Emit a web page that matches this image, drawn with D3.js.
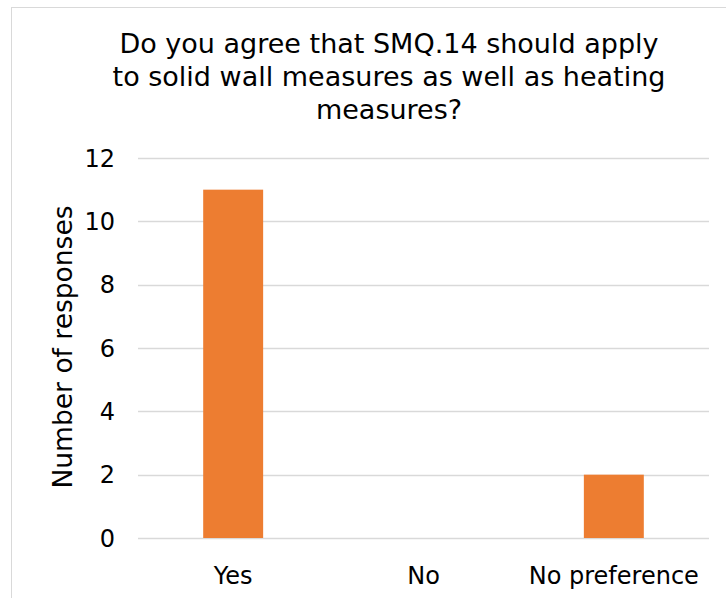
<!DOCTYPE html>
<html>
<head>
<meta charset="utf-8">
<script src="https://cdn.jsdelivr.net/npm/d3@7"></script>
<style>
  body { margin: 0; background: #fff; }
  svg text { font-family: "DejaVu Sans", Verdana, sans-serif; fill: #000; }
</style>
</head>
<body>
<script>
var categories = ["Yes", "No", "No preference"];
var responses = [11, 0, 2];
var yTicks = [0, 2, 4, 6, 8, 10, 12];
var titleLines = ["Do you agree that SMQ.14 should apply", "to solid wall measures as well as heating", "measures?"];
var yLabel = "Number of responses";

var w = 726, h = 598;
var plot = {left: 138, right: 709, top: 158, bottom: 538};

var svg = d3.select("body").append("svg").attr("width", w).attr("height", h);

// chart frame
svg.append("rect")
    .attr("x", 11.5).attr("y", 7.5)
    .attr("width", w + 20).attr("height", h + 20)
    .attr("fill", "#fff").attr("stroke", "#d9d9d9");

var x = d3.scaleBand().domain(categories).range([plot.left, plot.right]);
var y = d3.scaleLinear().domain([0, 12]).range([plot.bottom, plot.top]);

// gridlines
svg.selectAll(".grid").data(yTicks).enter().append("line")
    .attr("x1", plot.left).attr("x2", plot.right)
    .attr("y1", function(d) { return Math.round(y(d)) + 0.5; })
    .attr("y2", function(d) { return Math.round(y(d)) + 0.5; })
    .attr("stroke", "#d9d9d9").attr("stroke-width", 1.5);

// y ticks
svg.selectAll(".ytick").data(yTicks).enter().append("text")
    .attr("x", 115).attr("y", function(d) { return y(d); })
    .attr("dy", "0.36em").attr("text-anchor", "end")
    .attr("font-size", 24)
    .text(function(d) { return d; });

// bars
var barW = x.bandwidth() * 0.315;
svg.selectAll(".bar").data(responses).enter().append("rect")
    .attr("x", function(d, i) { return x(categories[i]) + (x.bandwidth() - barW) / 2; })
    .attr("y", function(d) { return y(d); })
    .attr("width", barW)
    .attr("height", function(d) { return y(0) - y(d); })
    .attr("fill", "#ed7d31");

// x labels
svg.selectAll(".xlab").data(categories).enter().append("text")
    .attr("x", function(d) { return x(d) + x.bandwidth() / 2; })
    .attr("y", 584)
    .attr("text-anchor", "middle")
    .attr("font-size", 24)
    .text(function(d) { return d; });

// y axis title
svg.append("text")
    .attr("transform", "translate(72,347) rotate(-90)")
    .attr("text-anchor", "middle")
    .attr("font-size", 26.5)
    .text(yLabel);

// chart title
svg.selectAll(".title").data(titleLines).enter().append("text")
    .attr("x", 389).attr("y", function(d, i) { return 53 + i * 33; })
    .attr("text-anchor", "middle")
    .attr("font-size", 27)
    .text(function(d) { return d; });
</script>
</body>
</html>
